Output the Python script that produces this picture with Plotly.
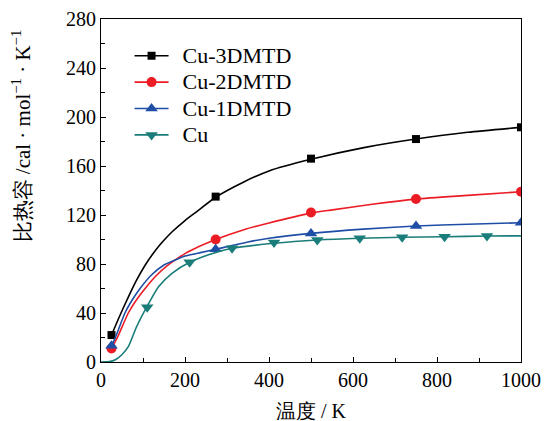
import plotly.graph_objects as go

# Measured points (markers)
x_3d = [25, 273, 500, 750, 1000]
y_3d = [22, 135, 166, 182, 191.6]
x_2d = [25, 273, 500, 750, 1000]
y_2d = [11, 100, 122, 133, 139]
x_1d = [25, 273, 500, 750, 1000]
y_1d = [13.3, 92, 105, 111, 113.7]
x_cu = [10, 110, 211, 312, 412, 515, 616, 717, 818, 919]
y_cu = [-2, 44.6, 81.4, 92.8, 97.5, 99.6, 101, 101.8, 102.3, 102.8]

# Fitted curves
cx_3d = [25, 45, 65, 85, 105, 125, 145, 170, 200, 225, 273, 340, 400, 500, 626, 750, 873, 1000]
cy_3d = [22, 38, 53, 67, 79, 89, 97.5, 106.5, 115.5, 122, 134.5, 147, 156, 165.5, 175, 182, 187.5, 191.5]
cx_2d = [25, 40, 65, 85, 105, 130, 157, 175, 200, 232, 273, 340, 400, 500, 547, 650, 750, 873, 1000]
cy_2d = [11, 20.7, 40, 51, 60, 70, 78.5, 83, 88.5, 94, 100, 108, 113.5, 121.5, 124, 129, 133, 136, 139]
cx_1d = [25, 35, 57, 75, 93, 120, 149, 175, 200, 240, 273, 350, 400, 500, 625, 750, 873, 1000]
cy_1d = [13.3, 20.7, 40, 51, 60, 71, 79, 83, 86.5, 89.5, 92, 98, 101, 105, 108.5, 111, 112.5, 113.7]
cx_cu = [0, 20, 33, 49, 65, 85, 109, 137, 169, 211, 260, 312, 411, 515, 616, 717, 818, 919, 1000]
cy_cu = [0, 0.3, 1.6, 5.7, 12.5, 29, 45, 61.5, 72.4, 81.4, 88, 92.8, 96.9, 99.6, 101, 101.8, 102.3, 102.8, 103]

names = ["Cu-3DMTD", "Cu-2DMTD", "Cu-1DMTD", "Cu"]
colors = ["#000000", "#ec1c24", "#1f4ea6", "#1a7d79"]
symbols = ["square", "circle", "triangle-up", "triangle-down"]
sizes = [8, 10, 11, 11]

series = [
    (x_3d, y_3d, cx_3d, cy_3d),
    (x_2d, y_2d, cx_2d, cy_2d),
    (x_1d, y_1d, cx_1d, cy_1d),
    (x_cu, y_cu, cx_cu, cy_cu),
]

SERIF = "Liberation Serif"

fig = go.Figure()
for (mx, my, cx, cy), name, col, sym, sz in zip(series, names, colors, symbols, sizes):
    fig.add_trace(go.Scatter(x=cx, y=cy, mode="lines",
                             line=dict(color=col, width=1.6, shape="spline", smoothing=0.6),
                             showlegend=False, hoverinfo="skip"))
    fig.add_trace(go.Scatter(x=mx, y=my, mode="markers", marker=dict(symbol=sym, size=sz, color=col),
                             showlegend=False))
    # legend entry: line with marker
    fig.add_trace(go.Scatter(x=[None], y=[None], mode="lines+markers",
                             name="\u00a0\u00a0<span style='font-size:22px'>" + name + "</span>",
                             line=dict(color=col, width=1.6),
                             marker=dict(symbol=sym, size=sz, color=col)))

tick_font = dict(family=SERIF, size=20, color="#000")
axis_common = dict(ticks="inside", ticklen=5, tickwidth=1, tickcolor="#000",
                   showline=True, linecolor="#000", linewidth=1.2, mirror=True,
                   showgrid=False, zeroline=False, tickfont=tick_font, automargin=False)
fig.update_xaxes(range=[0, 1000], tickmode="linear", tick0=0, dtick=200,
                 minor=dict(dtick=100, ticks="inside", ticklen=4, tickcolor="#000"), **axis_common)
fig.update_yaxes(range=[0, 280], tickmode="linear", tick0=0, dtick=40,
                 minor=dict(dtick=20, ticks="inside", ticklen=4, tickcolor="#000"), **axis_common)

title_font = dict(family=SERIF, size=20, color="#000")
fig.add_annotation(text="温度 / K", xref="paper", yref="paper", x=0.5, y=-0.143,
                   xanchor="center", yanchor="middle", showarrow=False, font=title_font)
fig.add_annotation(text="比热容 /cal · mol<sup>−1</sup> · K<sup>−1</sup>", xref="paper", yref="paper",
                   x=-0.1885, y=0.66, textangle=-90, xanchor="center", yanchor="middle",
                   showarrow=False, font=dict(family=SERIF, size=21, color="#000"))

fig.update_layout(
    width=545, height=421,
    margin=dict(l=101, r=24, t=19, b=59),
    paper_bgcolor="white", plot_bgcolor="white",
    legend=dict(x=0.068, y=0.946, xanchor="left", yanchor="top",
                font=dict(family=SERIF, size=18, color="#000"),
                bgcolor="rgba(0,0,0,0)", itemwidth=34, tracegroupgap=0),
)

fig.write_html("out.html")
